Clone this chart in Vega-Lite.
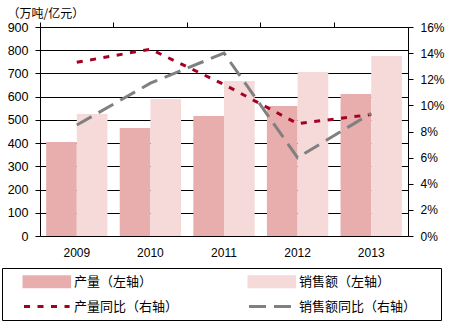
{
  "$schema": "https://vega.github.io/schema/vega-lite/v6.json",
  "width": 368,
  "height": 209,
  "autosize": "none",
  "padding": {"left": 40, "top": 27, "right": 49, "bottom": 91},
  "background": "white",
  "config": {
    "view": {"stroke": null},
    "font": "Liberation Sans",
    "axis": {"labelFont": "Liberation Sans", "labelColor": "black", "domainColor": "black", "tickColor": "black", "gridColor": "black", "gridOpacity": 1, "domainWidth": 1, "tickWidth": 1}
  },
  "datasets": {
    "bars": [
      {"year": "2009", "series": "产量（左轴）", "value": 405},
      {"year": "2009", "series": "销售额（左轴）", "value": 525},
      {"year": "2010", "series": "产量（左轴）", "value": 465},
      {"year": "2010", "series": "销售额（左轴）", "value": 590},
      {"year": "2011", "series": "产量（左轴）", "value": 517},
      {"year": "2011", "series": "销售额（左轴）", "value": 667},
      {"year": "2012", "series": "产量（左轴）", "value": 560},
      {"year": "2012", "series": "销售额（左轴）", "value": 706},
      {"year": "2013", "series": "产量（左轴）", "value": 611},
      {"year": "2013", "series": "销售额（左轴）", "value": 775}
    ],
    "lines": [
      {"year": "2009", "series": "产量同比（右轴）", "value": 0.133},
      {"year": "2010", "series": "产量同比（右轴）", "value": 0.143},
      {"year": "2011", "series": "产量同比（右轴）", "value": 0.116},
      {"year": "2012", "series": "产量同比（右轴）", "value": 0.086},
      {"year": "2013", "series": "产量同比（右轴）", "value": 0.093},
      {"year": "2009", "series": "销售额同比（右轴）", "value": 0.085},
      {"year": "2010", "series": "销售额同比（右轴）", "value": 0.117},
      {"year": "2011", "series": "销售额同比（右轴）", "value": 0.14},
      {"year": "2012", "series": "销售额同比（右轴）", "value": 0.06},
      {"year": "2013", "series": "销售额同比（右轴）", "value": 0.094}
    ]
  },
  "layer": [
    {
      "data": {"name": "bars"},
      "mark": {"type": "bar"},
      "encoding": {
        "x": {
          "field": "year", "type": "nominal",
          "scale": {"paddingInner": 0, "paddingOuter": 0},
          "axis": {"title": null, "labelAngle": 0, "ticks": false, "tickSize": 0, "domain": false, "labelPadding": 11, "labelFontSize": 12, "grid": false}
        },
        "xOffset": {
          "field": "series", "type": "nominal",
          "scale": {"domain": ["产量（左轴）", "销售额（左轴）"], "paddingInner": 0, "paddingOuter": 0.2}
        },
        "y": {
          "field": "value", "type": "quantitative",
          "scale": {"domain": [0, 900], "nice": false},
          "axis": {
            "values": [0, 100, 200, 300, 400, 500, 600, 700, 800, 900],
            "grid": true, "tickSize": 5, "labelPadding": 7, "labelFontSize": 12.5,
            "title": "（万吨/亿元）", "titleAngle": 0, "titleAlign": "left", "titleBaseline": "middle",
            "titleX": -33, "titleY": -14, "titleFont": "Noto Sans CJK SC", "titleFontSize": 12, "titleFontWeight": "normal", "titleColor": "black"
          }
        },
        "color": {
          "field": "series", "type": "nominal",
          "scale": {
            "domain": ["产量（左轴）", "销售额（左轴）", "产量同比（右轴）", "销售额同比（右轴）"],
            "range": ["#E8AEAE", "#F6DADA", "#A50021", "#808080"]
          },
          "legend": {
            "title": " ", "titleOrient": "right", "titlePadding": 19, "titleFontSize": 6,
            "orient": "none", "legendX": -38, "legendY": 241, "direction": "horizontal",
            "columns": 2, "columnPadding": 54, "rowPadding": 6,
            "strokeColor": "black", "padding": 6,
            "symbolSize": 144, "symbolType": "M-1.25,-0.83H6.35V0.83H-1.25Z", "symbolOffset": 16,
            "labelFont": "Noto Sans CJK SC", "labelFontSize": 13, "labelColor": "black", "labelOffset": 35, "labelLimit": 300,
            "encode": {
              "symbols": {
                "update": {
                  "shape": {"signal": "indexof(datum.value, '同比') >= 0 ? 'M-1.25,0H6.35' : 'M-1.25,-0.83H6.35V0.83H-1.25Z'"},
                  "fill": {"signal": "indexof(datum.value, '同比') >= 0 ? 'transparent' : scale('color', datum.value)"},
                  "stroke": {"signal": "indexof(datum.value, '同比') >= 0 ? scale('color', datum.value) : 'transparent'"},
                  "strokeDash": {"signal": "datum.value === '产量同比（右轴）' ? [6, 7.5] : (datum.value === '销售额同比（右轴）' ? [17, 8] : [1, 0])"},
                  "strokeWidth": {"value": 3},
                  "opacity": {"value": 1},
                  "fillOpacity": {"value": 1},
                  "strokeOpacity": {"value": 1}
                }
              }
            }
          }
        }
      }
    },
    {
      "data": {"name": "lines"},
      "mark": {"type": "line", "strokeWidth": 3},
      "encoding": {
        "x": {
          "field": "year", "type": "nominal",
          "axis": {"title": null, "bandPosition": 0, "labels": false, "ticks": true, "tickSize": 5, "domain": true, "grid": false}
        },
        "y": {
          "field": "value", "type": "quantitative",
          "scale": {"domain": [0, 0.16], "nice": false},
          "axis": {
            "orient": "right", "format": ".0%", "values": [0, 0.02, 0.04, 0.06, 0.08, 0.1, 0.12, 0.14, 0.16],
            "grid": false, "tickSize": 5, "labelPadding": 7, "labelFontSize": 12, "title": null
          }
        },
        "color": {"field": "series", "type": "nominal"},
        "strokeDash": {
          "field": "series", "type": "nominal",
          "scale": {"domain": ["产量同比（右轴）", "销售额同比（右轴）"], "range": [[6, 7.5], [17, 8]]},
          "legend": null
        }
      }
    }
  ],
  "resolve": {"scale": {"y": "independent"}, "axis": {"x": "independent"}}
}
